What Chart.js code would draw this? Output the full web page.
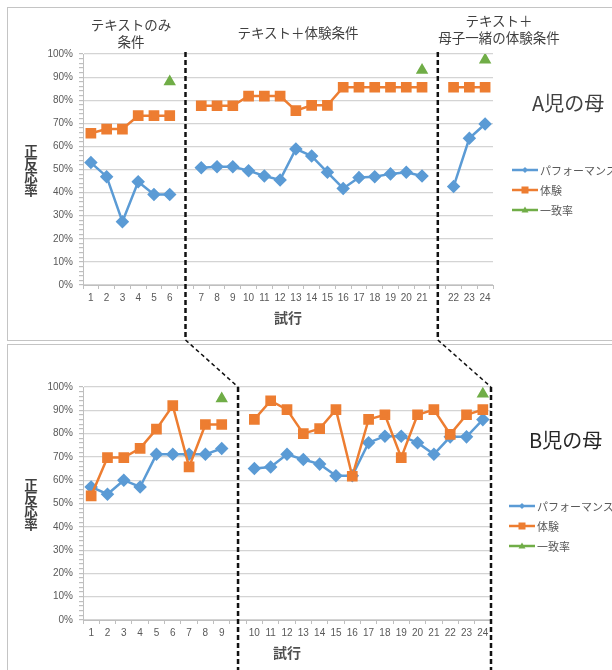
<!DOCTYPE html>
<html>
<head>
<meta charset="utf-8">
<script src="https://cdn.jsdelivr.net/npm/chart.js@4.4.1/dist/chart.umd.min.js"></script>
<style>
  html, body { margin: 0; padding: 0; background: #fff; }
  body { width: 612px; height: 670px; position: relative; overflow: hidden; font-family: "Noto Sans CJK JP", sans-serif; }
  .frame { position: absolute; border: 1.5px solid #c4c4c4; }
  .txt { position: absolute; color: #404040; white-space: nowrap; transform: translate(-50%, -50%); text-align: center; line-height: 1.25; }
  .ytitle { position: absolute; color: #404040; font-weight: bold; font-size: 13.5px; line-height: 13px; width: 16px; text-align: center; transform: translateY(-50%); }
  .big { position: absolute; font-size: 20px; white-space: nowrap; transform: translateY(-50%); }
  .leg { position: absolute; font-size: 11px; color: #595959; white-space: nowrap; transform: translateY(-50%); display: flex; align-items: center; }
  .leg svg { margin-right: 2px; }
  canvas { position: absolute; left: 0; }
</style>
</head>
<body>

<div class="frame" style="left:7px; top:7px; width:640px; height:332px;"></div>
<div class="frame" style="left:7px; top:344px; width:640px; height:340px;"></div>

<canvas id="chartA" width="612" height="340" style="top:0;"></canvas>
<canvas id="chartB" width="612" height="326" style="top:344px;"></canvas>
<canvas id="overlay" width="612" height="670" style="top:0; pointer-events:none;"></canvas>

<!-- condition headers (top chart) -->
<div class="txt" style="left:131px; top:33px; font-size:13.5px;">テキストのみ<br>条件</div>
<div class="txt" style="left:298px; top:32px; font-size:13.5px;">テキスト＋体験条件</div>
<div class="txt" style="left:499px; top:29px; font-size:13.5px;">テキスト＋<br>母子一緒の体験条件</div>

<div class="ytitle" style="left:23px; top:170px;">正<br>反<br>応<br>率</div>
<div class="ytitle" style="left:23px; top:504px;">正<br>反<br>応<br>率</div>

<div class="big" style="left:532px; top:102px; color:#404040;">A児の母</div>
<div class="big" style="left:529px; top:439px; color:#262626;">B児の母</div>

<div id="legendA"></div>
<div id="legendB"></div>

<script>
// trial labels ('' = gap between conditions)
var labelsA = ['1','2','3','4','5','6','','7','8','9','10','11','12','13','14','15','16','17','18','19','20','21','','22','23','24'];
var perfA   = [53.0,46.9,27.4,44.7,39.2,39.2,null,50.8,51.2,51.2,49.5,47.2,45.5,58.9,55.8,48.8,41.8,46.5,46.9,48.1,48.8,47.2,null,42.6,63.5,69.7];
var expA    = [65.7,67.5,67.5,73.3,73.3,73.3,null,77.6,77.6,77.6,81.8,81.8,81.8,75.5,77.8,77.8,85.6,85.6,85.6,85.6,85.6,85.6,null,85.6,85.6,85.6];
var agreeA  = [null,null,null,null,null,88,null,null,null,null,null,null,null,null,null,null,null,null,null,null,null,93,null,null,null,97.5];

var labelsB = ['1','2','3','4','5','6','7','8','9','','10','11','12','13','14','15','16','17','18','19','20','21','22','23','24'];
var perfB   = [57.1,54.0,60.0,57.1,71.1,71.1,71.1,71.1,73.6,null,65.0,65.7,71.1,68.9,66.9,61.9,61.9,76.1,78.9,78.9,76.1,71.1,78.6,78.6,86.0];
var expB    = [53.3,69.7,69.7,73.7,81.9,92.0,65.7,83.9,83.9,null,86.1,94.1,90.3,80.0,82.1,90.3,61.7,86.1,88.1,69.7,88.1,90.3,79.7,88.1,90.3];
var agreeB  = [null,null,null,null,null,null,null,null,95,null,null,null,null,null,null,null,null,null,null,null,null,null,null,null,97];

var seriesNames = ['パフォーマンス', '体験', '一致率'];
var colors = { perf: '#5B9BD5', exp: '#ED7D31', agree: '#70AD47' };

var tickFont = { family: '"Liberation Sans", Arial, sans-serif', size: 10 };

function makeChart(id, labels, perf, exp, agree, box) {
    var ctx = document.getElementById(id).getContext('2d');
    return new Chart(ctx, {
        type: 'line',
        data: {
            labels: labels,
            datasets: [
                { label: seriesNames[0], data: perf, borderColor: colors.perf, backgroundColor: colors.perf,
                  borderWidth: 2.5, pointStyle: 'rectRot', pointRadius: 5, order: 2 },
                { label: seriesNames[1], data: exp, borderColor: colors.exp, backgroundColor: colors.exp,
                  borderWidth: 2.5, pointStyle: 'rect', pointRadius: 5.8, order: 1 },
                { label: seriesNames[2], data: agree, borderColor: colors.agree, backgroundColor: colors.agree,
                  borderWidth: 2, pointStyle: 'triangle', pointRadius: 5.2, showLine: false, order: 0 }
            ]
        },
        options: {
            responsive: false,
            animation: false,
            spanGaps: false,
            layout: { padding: { left: 0, top: box.top, right: box.right, bottom: 0 } },
            plugins: { legend: { display: false }, tooltip: { enabled: false } },
            scales: {
                x: {
                    offset: true,
                    grid: { offset: true, drawOnChartArea: false, tickLength: 4, color: '#bfbfbf' },
                    border: { color: '#bfbfbf', width: 1 },
                    ticks: { autoSkip: false, maxRotation: 0, padding: 3, color: '#595959', font: tickFont },
                    title: { display: true, text: '試行', color: '#505050',
                             font: { family: '"Noto Sans CJK JP", sans-serif', size: 14, weight: 'bold' },
                             padding: { top: 0, bottom: box.titlePad } },
                    afterFit: function (scale) { scale.height = box.xHeight; }
                },
                y: {
                    min: 0,
                    max: 100,
                    grid: {
                        tickLength: 4,
                        tickColor: '#bfbfbf',
                        color: function (c) { return c.tick && c.tick.value % 10 === 0 ? '#d4d4d4' : 'transparent'; },
                        lineWidth: 1.2
                    },
                    border: { color: '#bfbfbf', width: 1 },
                    ticks: {
                        stepSize: 2,
                        autoSkip: false,
                        padding: 6,
                        color: '#595959',
                        font: tickFont,
                        callback: function (v) { return v % 10 === 0 ? v + '%' : ''; }
                    },
                    afterFit: function (scale) { scale.width = 83; }
                }
            }
        }
    });
}

var chartA = makeChart('chartA', labelsA, perfA, expA, agreeA, { top: 54, right: 119, xHeight: 55, titlePad: 13.6 });
var chartB = makeChart('chartB', labelsB, perfB, expB, agreeB, { top: 43, right: 121, xHeight: 50, titlePad: 8.6 });

// legends (line + marker + label)
function markerSvg(kind, color) {
    var m = '';
    if (kind === 0) m = '<polygon points="13,2 16,5 13,8 10,5" fill="' + color + '"/>';
    if (kind === 1) m = '<rect x="9.5" y="1.5" width="7" height="7" fill="' + color + '"/>';
    if (kind === 2) m = '<polygon points="13,1.5 16.5,7.5 9.5,7.5" fill="' + color + '"/>';
    return '<svg width="26" height="10"><line x1="0" y1="5" x2="26" y2="5" stroke="' + color + '" stroke-width="2.5"/>' + m + '</svg>';
}
function buildLegend(id, left, tops) {
    var el = document.getElementById(id);
    var cols = [colors.perf, colors.exp, colors.agree];
    var html = '';
    for (var i = 0; i < 3; i++) {
        html += '<div class="leg" style="left:' + left + 'px; top:' + tops[i] + 'px;">' + markerSvg(i, cols[i]) + seriesNames[i] + '</div>';
    }
    el.innerHTML = html;
}
buildLegend('legendA', 512, [170, 190, 210]);
buildLegend('legendB', 509, [506, 526, 546]);

// dashed condition separators, linked between the two charts
(function drawSeparators() {
    var o = document.getElementById('overlay').getContext('2d');
    var offB = 344;
    var aTop = chartA.chartArea.top - 2;
    var bTop = offB + chartB.chartArea.top;
    var a1 = chartA.scales.x.getPixelForValue(6);
    var a2 = chartA.scales.x.getPixelForValue(22);
    var b1 = chartB.scales.x.getPixelForValue(9);
    var b2 = chartB.chartArea.right;

    o.strokeStyle = '#111';
    o.lineWidth = 2.5;
    o.setLineDash([5, 3]);
    [a1, a2].forEach(function (x) {
        o.beginPath(); o.moveTo(x, aTop); o.lineTo(x, 340); o.stroke();
    });
    [b1, b2].forEach(function (x) {
        o.beginPath(); o.moveTo(x, bTop); o.lineTo(x, 670); o.stroke();
    });

    o.lineWidth = 1.5;
    o.setLineDash([4, 3]);
    o.beginPath(); o.moveTo(a1, 340); o.lineTo(b1, bTop); o.stroke();
    o.beginPath(); o.moveTo(a2, 340); o.lineTo(b2, bTop); o.stroke();
})();
</script>
</body>
</html>
